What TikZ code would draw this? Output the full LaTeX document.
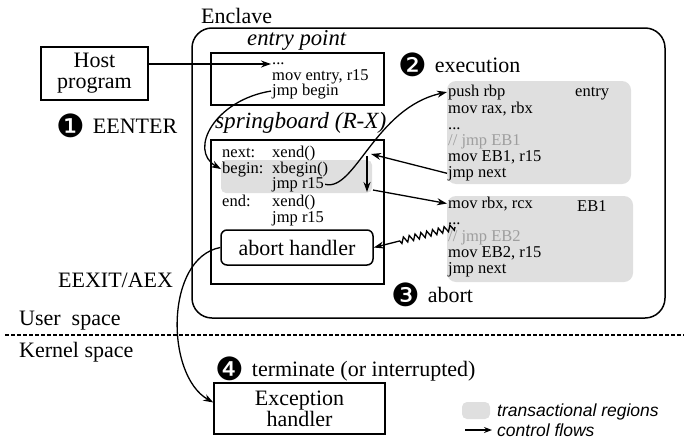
\documentclass[tikz,border=0pt]{standalone}
\usepackage{fontspec}
\setmainfont{Liberation Serif}
\newfontfamily\legendfont{Liberation Sans}
\newfontfamily\dingfont{DejaVu Sans}
\usetikzlibrary{arrows.meta,decorations.pathmorphing}

\newcommand{\codesize}{\fontsize{16.5}{18}\selectfont}
\newcommand{\bigsize}{\fontsize{22}{21}\selectfont}
\newcommand{\dnum}[1]{\raisebox{-4pt}{\dingfont\fontsize{32}{21}\selectfont #1}}

\tikzset{
  code/.style={font=\codesize, anchor=base west, inner sep=1pt},
  bigtext/.style={font=\bigsize, anchor=base west, inner sep=0pt},
  legend/.style={font=\legendfont\itshape\fontsize{17.5}{19}\selectfont, anchor=base west, inner sep=0pt},
  box/.style={draw, line width=1.5pt},
  trans/.style={fill=gray!25, rounded corners=9pt},
  flow/.style={-{Stealth[length=10pt,width=7pt]}, line width=1.3pt},
}

\begin{document}
\begin{tikzpicture}[x=1pt,y=-1pt]
  \useasboundingbox (0,0) rectangle (684,439);

  % enclave and its regions
  \draw[line width=1.5pt, rounded corners=20pt] (192,28) rectangle (665,318);
  \fill[trans] (447,81) rectangle (631,184);
  \fill[trans] (447,196) rectangle (633,282);
  \fill[gray!25, rounded corners=5pt] (221,160) rectangle (372,193);
  \draw[box] (211,53) rectangle (384,105);
  \draw[box] (211,140) rectangle (384,284);

  \node[box, rounded corners=6pt, minimum width=152pt, minimum height=35pt, font=\bigsize] (abort) at (297,247.5) {abort handler};
  \node[box, minimum width=107pt, minimum height=53pt, align=center, font=\bigsize] (host) at (94.5,73.5) {Host\\program};
  \node[box, minimum width=171pt, minimum height=51pt, align=center, font=\bigsize] (exc) at (299.5,408.5) {Exception\\handler};

  % labels
  \node[bigtext] (encl) at (201,23) {Enclave};
  \node[bigtext, font=\fontsize{22.7}{21}\selectfont\itshape] (eplbl) at (247,45) {entry point};
  \node[bigtext, font=\fontsize{23.2}{21}\selectfont\itshape] (sblbl) at (215,128) {springboard (R-X)};
  \node[bigtext] (st1) at (56,133) {\dnum{❶}\hspace{8pt}EENTER};
  \node[bigtext] (st2) at (398,72) {\dnum{❷}\hspace{8pt}execution};
  \node[bigtext] (st3) at (391,302) {\dnum{❸}\hspace{8pt}abort};
  \node[bigtext] (st4) at (215,376) {\dnum{❹}\hspace{8pt}terminate (or interrupted)};
  \node[bigtext] (exit) at (58,287) {EEXIT/AEX};
  \node[bigtext] (user) at (19,325) {User\ \ space};
  \node[bigtext] (kern) at (19,357) {Kernel space};
  \draw[line width=1.3pt, dash pattern=on 4pt off 2pt] (5,335) -- (684,335);

  % entry point
  \node[code] (ep0) at (271,64) {...};
  \node[code] (ep1) at (271,80) {mov entry, r15};
  \node[code] (ep2) at (271,95) {jmp begin};

  % springboard
  \node[code] (nx) at (221,157) {next:};
  \node[code] (nx1) at (271,157) {xend()};
  \node[code] (bg) at (221,173) {begin:};
  \node[code] (bg1) at (271,173) {xbegin()};
  \node[code] (jr) at (271,188) {jmp r15};
  \node[code] (en) at (221,206) {end:};
  \node[code] (en1) at (271,206) {xend()};
  \node[code] (en2) at (271,222) {jmp r15};

  % entry block
  \node[code] (e0) at (447,96) {push rbp};
  \node[code] (e1) at (447,113) {mov rax, rbx};
  \node[code] (e2) at (447,129) {...};
  \node[code, text=black!38] (e3) at (447,145) {// jmp EB1};
  \node[code] (e4) at (447,161) {mov EB1, r15};
  \node[code] (e5) at (447,177) {jmp next};
  \node[code] (etag) at (574,96) {entry};

  % EB1 block
  \node[code] (b0) at (447,208) {mov rbx, rcx};
  \node[code] (b1) at (447,224) {...};
  \node[code, text=black!38] (b2) at (447,241) {// jmp EB2};
  \node[code] (b3) at (447,257) {mov EB2, r15};
  \node[code] (b4) at (447,273) {jmp next};
  \node[code] (btag) at (576,211) {EB1};

  \coordinate (nxin) at (371,154);
  \coordinate (dtop) at (367,156);
  \coordinate (dbot) at (367,192);
  \coordinate (bgout) at (373,190);
  \coordinate (zz) at (455,227);

  % control flows
  \draw[flow] (host.east |- ep0.base west) -- (ep0.base west);
  \draw[flow] (ep2.west) .. controls (215,100) and (188,150) .. (bg.west);
  \draw[flow] (jr.east) .. controls (355,192) and (375,108) .. (e0.west);
  \draw[flow] (e5.west) -- (nxin);
  \draw[flow] (dtop) -- (dbot);
  \draw[flow] (bgout) -- (b0.west);
  \draw[flow, decorate, decoration={zigzag, segment length=6pt, amplitude=3pt, post length=24pt}] (zz) -- (abort.east);
  \draw[flow] (abort.west) .. controls (165,258) and (165,375) .. (exc.176);

  % legend
  \node[fill=gray!25, rounded corners=5pt, minimum width=28pt, minimum height=17pt, inner sep=0pt] (lgbox) at (476,410.5) {};
  \node[legend] (lgt) at (497,416) {transactional regions};
  \node[legend] (lgc) at (497,436) {control flows};
  \coordinate (la) at (465,430);
  \coordinate (lb) at (492,430);
  \draw[-{Stealth[length=8pt,width=6pt]}, line width=1.2pt] (la) -- (lb);
\end{tikzpicture}
\end{document}
